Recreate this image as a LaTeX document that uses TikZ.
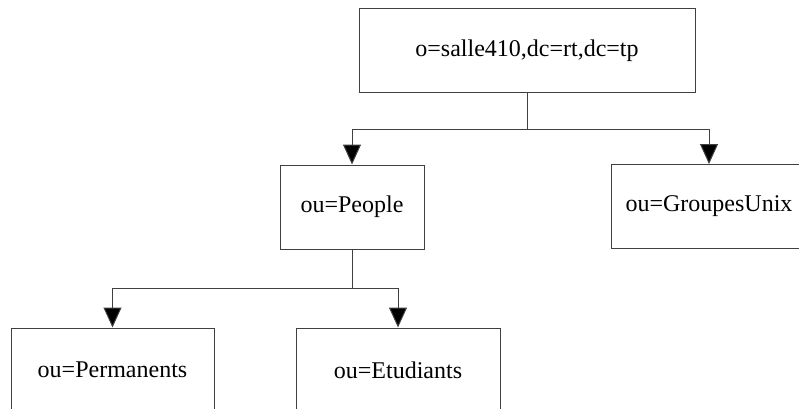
\documentclass[tikz,border=0pt]{standalone}
\usepackage{fontspec}
\setmainfont{Liberation Serif}
\usetikzlibrary{arrows.meta}
\begin{document}
\begin{tikzpicture}[x=1pt,y=-1pt,
  box/.style={draw=black!75,line width=1pt,rectangle,minimum height=84pt,inner sep=0pt,
    font=\fontsize{24}{28}\selectfont},
  conn/.style={draw=black!75,line width=1pt,-{Triangle[length=20pt 0,width=18pt 0,fill=black]}},
  plain/.style={draw=black!75,line width=1pt}]
\useasboundingbox (0,0) rectangle (799,408);
\clip (0,0) rectangle (799,408);
\node[box,minimum width=336pt] (top) at (527,50.3) {o=salle410,dc=rt,dc=tp};
\node[box,minimum width=144pt] (people) at (352,207) {ou=People};
\node[box,minimum width=196pt] (groupes) at (709,206.5) {ou=GroupesUnix};
\node[box,minimum width=203pt] (perm) at (112.5,370) {ou=Permanents};
\node[box,minimum width=204pt] (etud) at (398,370) {ou=Etudiants};
\coordinate (j1) at (527,129);
\coordinate (j2) at (352,288);
\draw[plain] (top.south) -- (j1);
\draw[conn] (j1) -| (people.north);
\draw[conn] (j1) -| (groupes.north);
\draw[plain] (people.south) -- (j2);
\draw[conn] (j2) -| (perm.north);
\draw[conn] (j2) -| (etud.north);
\end{tikzpicture}
\end{document}
